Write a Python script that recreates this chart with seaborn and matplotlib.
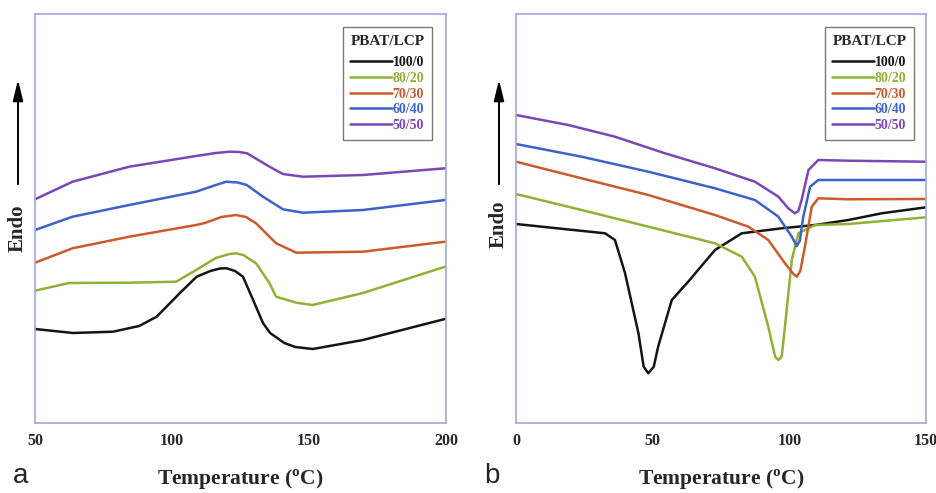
import matplotlib
matplotlib.use("Agg")
import matplotlib.pyplot as plt
from matplotlib.ticker import MultipleLocator, NullLocator
import numpy as np
import pandas as pd
import seaborn as sns

# ---------------- data ----------------
samples = ["100/0", "80/20", "70/30", "60/40", "50/50"]
colors = ["#141414", "#8fb236", "#cc5a2c", "#3d62c8", "#7c46b4"]

# Panel a (heating scan) : temperature (°C) and heat flow (a.u., endo up)
a_T_100_0 = [50, 63.9, 78.5, 88, 94.4, 102.9, 109, 114, 117.5, 120, 123, 125.9, 129.6, 133.2, 135.8, 141, 145, 151.4, 169.7, 199.6]
a_y_100_0 = [94, 90, 91.3, 97, 106.3, 130, 146.3, 152, 154.5, 154.7, 152, 146.3, 123, 100, 90, 80, 76, 74, 83, 104]
a_T_80_20 = [50, 62.4, 84.4, 101.5, 108.8, 116, 121, 123.4, 126, 130.7, 135.6, 138, 145.4, 151.3, 169.7, 199.7]
a_y_80_20 = [132.3, 140, 140.3, 141.3, 153, 165, 169, 169.7, 168, 159.7, 139.7, 126.3, 120.3, 118, 130, 156.3]
a_T_70_30 = [50, 63.7, 84.4, 108.8, 112, 118, 123.4, 127, 130.7, 138, 145.4, 169.7, 199.7]
a_y_70_30 = [160.3, 174.7, 186.3, 198, 200, 206, 208, 206, 199.7, 179.7, 170.3, 171.3, 181.3]
a_T_60_40 = [50, 63.7, 84.4, 108.8, 116, 119.8, 124, 127.3, 133.2, 140.5, 147.8, 169.7, 199.7]
a_y_60_40 = [193, 206.3, 218, 231.3, 238, 241.3, 240.5, 238, 226.3, 213.7, 210.3, 213, 223]
a_T_50_50 = [50, 63.7, 84.4, 108.8, 116, 121, 124.5, 127.4, 135.6, 140.5, 147.8, 169.7, 199.7]
a_y_50_50 = [223.7, 241.3, 256.3, 267, 270, 271.3, 271, 269.7, 256.3, 249, 246.3, 248, 254.7]

# Panel b (cooling scan)
b_T_100_0 = [0, 32.6, 36.2, 39.9, 44.8, 46.7, 48.4, 50.4, 52, 57, 63, 72.8, 82.6, 97.2, 109.4, 121.6, 133.8, 150]
b_y_100_0 = [199, 189.7, 183, 149.7, 89.7, 56.3, 49.7, 56.3, 76.3, 123, 141.3, 173, 189.7, 194.7, 198, 203, 209.7, 215.7]
b_T_80_20 = [0, 24, 48.4, 72.8, 82.6, 87.4, 92.3, 94.8, 96, 97.2, 98.4, 100.9, 103.3, 109.4, 121.6, 150]
b_y_80_20 = [229, 213, 196.3, 179.7, 166.3, 146.3, 96.3, 66.3, 63, 66.3, 96.3, 163, 189.7, 198, 199, 205.7]
b_T_70_30 = [0, 24, 48.4, 72.8, 85, 92.3, 98.4, 101.5, 102.7, 104, 105.7, 108.2, 110.6, 121.6, 150]
b_y_70_30 = [261.3, 244.7, 228, 208, 196.3, 183, 159.7, 149, 146.3, 152, 176.3, 216.3, 224.7, 223.7, 224]
b_T_60_40 = [0, 24, 48.4, 72.8, 87.4, 96, 100.9, 102.7, 103.8, 105.1, 107.6, 110.6, 121.6, 150]
b_y_60_40 = [279, 266.3, 251.3, 234.7, 223, 206.3, 186.3, 177, 182, 206.3, 236.3, 243, 243, 243]
b_T_50_50 = [0, 19.1, 36.2, 54.5, 72.8, 87.4, 96, 99.6, 102, 103.3, 104.5, 107, 110.6, 121.6, 150]
b_y_50_50 = [308, 298, 286.3, 269.7, 254.7, 241.3, 226.3, 214.7, 209.7, 212, 223, 253, 263, 262.3, 261.3]

a_xticks = [50, 100, 150, 200]
b_xticks = [0, 50, 100, 150]


def frame(Ts, ys):
    rows = []
    for s, T, y in zip(samples, Ts, ys):
        rows.append(pd.DataFrame({"T": T, "hf": y, "sample": s}))
    return pd.concat(rows, ignore_index=True)


df_a = frame([a_T_100_0, a_T_80_20, a_T_70_30, a_T_60_40, a_T_50_50],
             [a_y_100_0, a_y_80_20, a_y_70_30, a_y_60_40, a_y_50_50])
df_b = frame([b_T_100_0, b_T_80_20, b_T_70_30, b_T_60_40, b_T_50_50],
             [b_y_100_0, b_y_80_20, b_y_70_30, b_y_60_40, b_y_50_50])

# ---------------- style ----------------
sns.set_style("white")
plt.rcParams["font.family"] = ["Liberation Serif", "DejaVu Serif"]
plt.rcParams["mathtext.fontset"] = "custom"
plt.rcParams["mathtext.rm"] = "Liberation Serif"
plt.rcParams["mathtext.bf"] = "Liberation Serif:bold"

W, H = 937, 493
fig = plt.figure(figsize=(W / 100, H / 100), dpi=100)
ax_a = fig.add_axes([35 / W, 70 / H, 411 / W, 409.5 / H])
ax_b = fig.add_axes([516 / W, 70 / H, 410 / W, 409.5 / H])

spine_col = "#a3a7de"
pal = dict(zip(samples, colors))

for ax, df, xt, xlim, leg_right in [
    (ax_a, df_a, a_xticks, (50, 200), (432 - 35) / 411),
    (ax_b, df_b, b_xticks, (0, 150), (914 - 516) / 410),
]:
    sns.lineplot(data=df, x="T", y="hf", hue="sample", hue_order=samples,
                 palette=pal, ax=ax, linewidth=1.8, sort=False, estimator=None)
    ax.set_xlim(*xlim)
    ax.set_ylim(0, 409.5)
    ax.set_xticks(xt)
    ax.xaxis.set_minor_locator(MultipleLocator(5))
    ax.yaxis.set_major_locator(NullLocator())
    ax.set_ylabel("")
    for sp in ax.spines.values():
        sp.set_color(spine_col)
        sp.set_linewidth(1.2)
    ax.tick_params(axis="x", which="major", direction="in", length=6, width=1,
                   color="#9097c8", pad=7, labelsize=11.5)
    ax.tick_params(axis="x", which="minor", direction="in", length=3.5, width=0.8,
                   color="#9097c8")
    for lab in ax.get_xticklabels():
        lab.set_fontweight("bold")
    ax.set_xlabel(r"Temperature ($^{\mathbf{o}}$C)", fontsize=15.5,
                  fontweight="bold", va="center")
    ax.xaxis.set_label_coords(0.5, (423 - 480) / 409.5)

    handles, labels = ax.get_legend_handles_labels()
    leg = ax.legend(handles, labels, title="PBAT/LCP", loc="upper right",
                    bbox_to_anchor=(leg_right, (423 - 27) / 409.5),
                    borderaxespad=0, frameon=True, fancybox=False,
                    edgecolor="#7a7a7a", framealpha=1, handlelength=3.0,
                    handletextpad=0.05, labelspacing=0.2, borderpad=0.55,
                    prop={"weight": "bold", "size": 10},
                    title_fontproperties={"weight": "bold", "size": 11},
                    labelcolor="linecolor")
    leg.get_frame().set_linewidth(1.0)
    leg._legend_box.sep = 6

# Endo arrows and labels
for xpix, ycenter in [(18, 228), (499, 224)]:
    fig.add_artist(matplotlib.patches.FancyArrowPatch(
        (xpix / W, (H - 187) / H), (xpix / W, (H - 77) / H),
        transform=fig.transFigure, arrowstyle="-|>,head_width=0.22,head_length=0.9",
        mutation_scale=14, color="black", linewidth=1.4))
    fig.text(xpix / W, (H - ycenter) / H, "Endo", rotation=90, ha="center",
             va="center", fontsize=15, fontweight="bold")

# Panel letters
fig.text(13 / W, 4 / H, "a", fontsize=20, family="Liberation Sans",
         ha="left", va="bottom")
fig.text(484 / W, 4 / H, "b", fontsize=20, family="Liberation Sans",
         ha="left", va="bottom")

fig.savefig("out.png", dpi=100)
